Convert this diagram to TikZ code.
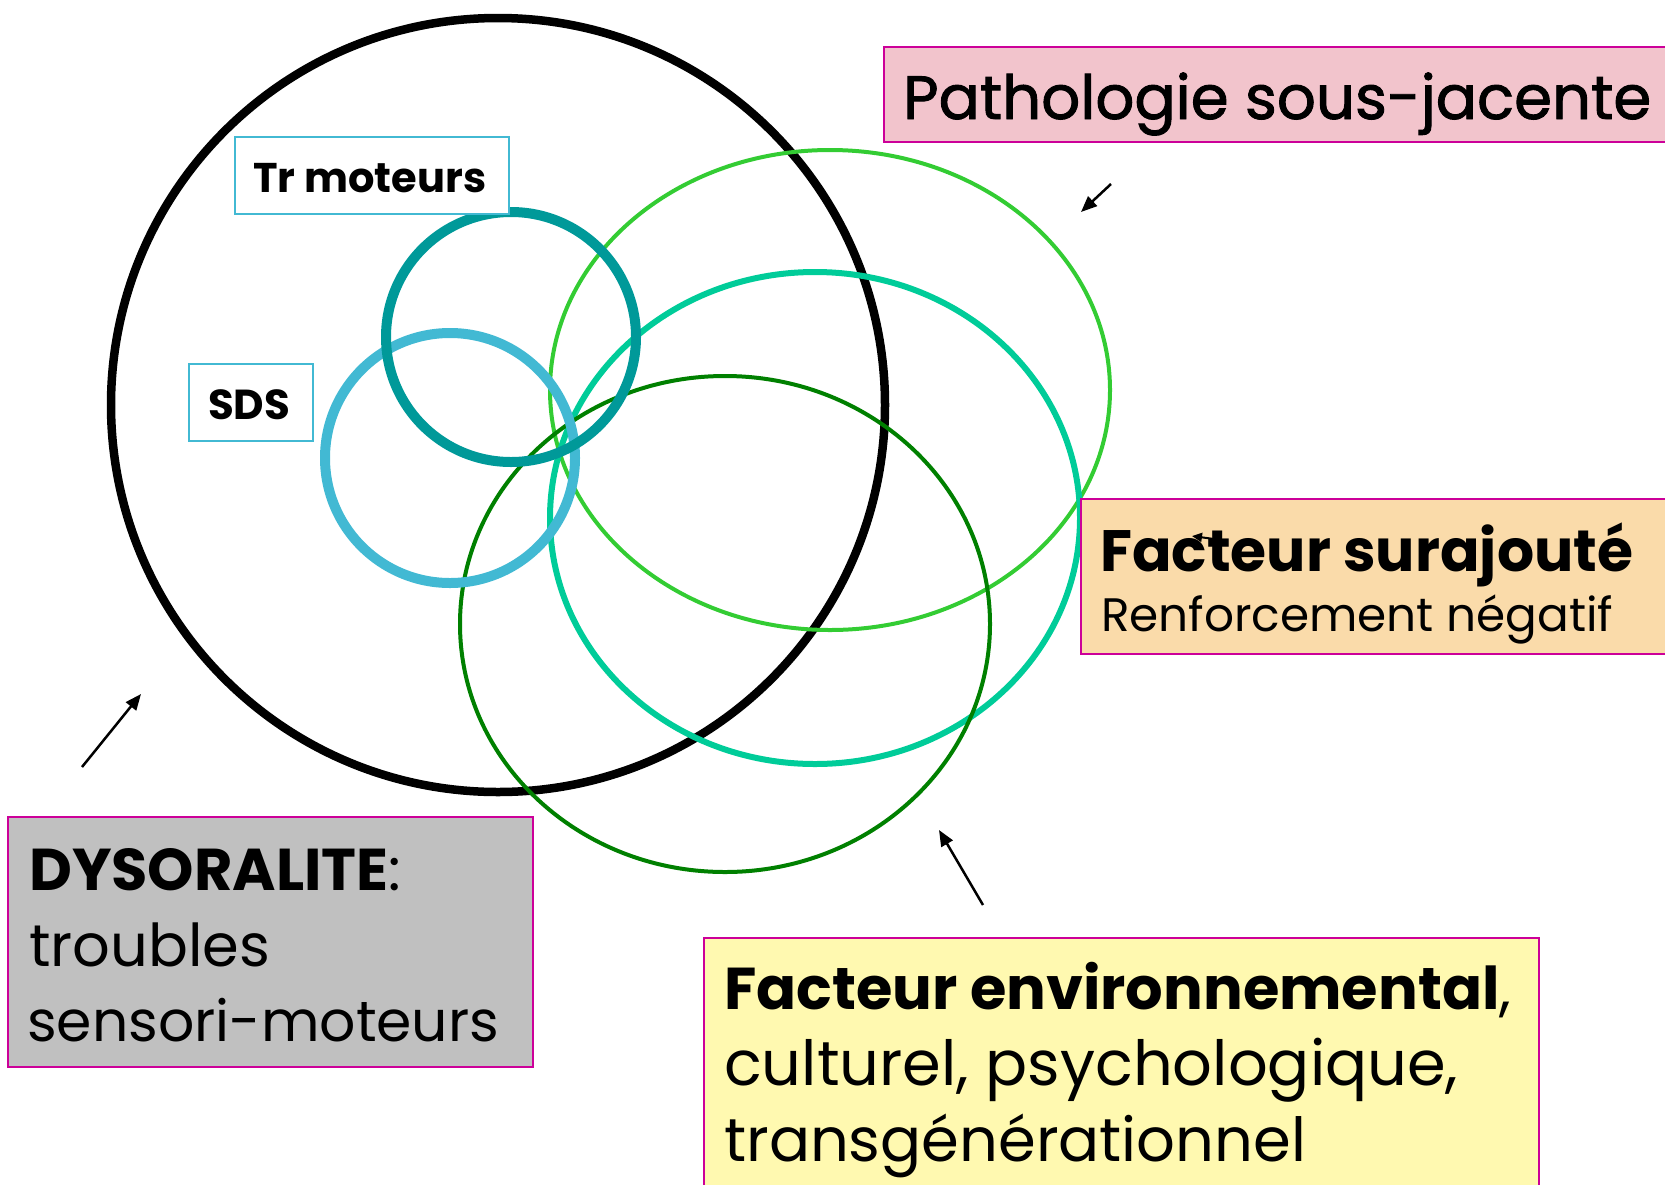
\documentclass[tikz,border=0pt]{standalone}
\usepackage{fontspec}
\setmainfont{Poppins}
\newfontfamily\medfont[FakeBold=1.5]{Poppins}
\usepackage{graphicx}
\usetikzlibrary{arrows.meta}
\definecolor{bordmag}{HTML}{CC0099}
\definecolor{pinkfill}{HTML}{F2C4CC}
\definecolor{peachfill}{HTML}{FADBAA}
\definecolor{greyfill}{HTML}{C0C0C0}
\definecolor{yellowfill}{HTML}{FFF9B0}
\definecolor{tealc}{HTML}{009999}
\definecolor{lblue}{HTML}{42B9D3}
\definecolor{lgreen}{HTML}{33CC33}
\definecolor{tgreen}{HTML}{00CC99}
\definecolor{dgreen}{HTML}{008000}
\newcommand{\fw}[2]{\resizebox{#1pt}{!}{#2}}
\tikzset{
  labelbox/.style={draw=bordmag, line width=2pt},
  smallbox/.style={draw=lblue, line width=1.5pt, fill=white},
  txt/.style={anchor=base west, inner sep=0pt, font=\fontsize{40}{48}\selectfont},
  pointer/.style={line width=2.5pt, -{Triangle[length=16pt,width=13pt]}},
}
\begin{document}
\begin{tikzpicture}[x=1pt,y=-1pt]
\useasboundingbox (0,0) rectangle (1665,1184);
% circles and ellipses
\draw[black, line width=8.5pt] (498,405) circle [radius=387];
\draw[lgreen, line width=4pt] (830,390) ellipse [x radius=280, y radius=240];
\draw[tgreen, line width=6pt] (815,518) ellipse [x radius=265, y radius=246];
\draw[dgreen, line width=4pt] (725,624) ellipse [x radius=265, y radius=248];
\draw[lblue, line width=10pt] (450,458) circle [radius=125];
\draw[tealc, line width=10pt] (511,337) circle [radius=125];
% small boxes
\node[smallbox, minimum width=274pt, minimum height=77pt, anchor=north west] (trbox) at (234,136) {};
\node[txt] (trtxt) at (253,192) {\fw{233}{\bfseries Tr moteurs}};
\node[smallbox, minimum width=124pt, minimum height=77pt, anchor=north west] (sdsbox) at (188,363) {};
\node[txt] (sdstxt) at (208,419) {\fw{82}{\bfseries SDS}};
% label boxes
\node[labelbox, fill=pinkfill, minimum width=782pt, minimum height=95pt, anchor=north west] (patho) at (883,46) {};
\node[txt] (pathotxt) at (903,119) {\fw{748}{\medfont Pathologie sous-jacente}};
\node[labelbox, fill=peachfill, minimum width=585pt, minimum height=155pt, anchor=north west] (sur) at (1080,498) {};
\node[txt] (surtxt) at (1100,571) {\fw{533}{\bfseries Facteur surajouté}};
\node[txt] (rentxt) at (1101,631) {\fw{512}{Renforcement négatif}};
\node[labelbox, fill=greyfill, minimum width=525pt, minimum height=250pt, anchor=north west] (dys) at (7,816) {};
\node[txt] (dystxt) at (29,890) {\fw{372}{\textbf{DYSORALITE}:}};
\node[txt] (trotxt) at (29,966) {\fw{241}{troubles}};
\node[txt] (sentxt) at (27,1041) {\fw{472}{sensori-moteurs}};
\node[labelbox, fill=yellowfill, minimum width=835pt, minimum height=250pt, anchor=north west] (env) at (703,937) {};
\node[txt] (envtxt) at (724,1009) {\fw{787}{\textbf{Facteur environnemental},}};
\node[txt] (cultxt) at (724,1085) {\fw{734}{culturel, psychologique,}};
\node[txt] (tratxt) at (724,1161) {\fw{582}{transgénérationnel}};
% arrows
\coordinate (a1s) at (1111,184); \coordinate (a1e) at (1081,212);
\coordinate (a2s) at (82,767);   \coordinate (a2e) at (141,694);
\coordinate (a3s) at (983,905);  \coordinate (a3e) at (939,830);
\coordinate (a4s) at (1214,539); \coordinate (a4e) at (1192,536);
\draw[pointer] (a1s) -- (a1e);
\draw[pointer] (a2s) -- (a2e);
\draw[pointer] (a3s) -- (a3e);
\draw[line width=2pt, -{Triangle[length=10pt,width=9pt]}] (a4s) -- (a4e);
\end{tikzpicture}
\end{document}
